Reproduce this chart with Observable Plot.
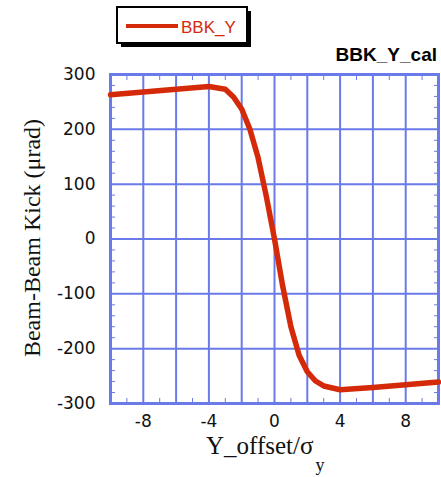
<!DOCTYPE html>
<html>
<head>
<meta charset="utf-8">
<script src="https://cdn.jsdelivr.net/npm/d3@7"></script>
<script src="https://cdn.jsdelivr.net/npm/@observablehq/plot@0.6"></script>
<style>
  body { margin: 0; background: #fff; }
  #chart { width: 441px; height: 477px; }
</style>
</head>
<body>
<div id="chart"></div>
<script>
// Vertical beam-beam kick versus normalised vertical offset
const offsets = [-10, -8, -6, -4, -3, -2.5, -2, -1.5, -1, -0.5, 0, 0.5, 1, 1.5, 2, 2.5, 3, 4, 6, 8, 10];
const kicks   = [263, 268, 273, 278, 273, 259, 237, 200, 148, 78, 0, -86, -160, -212, -242, -259, -268, -275, -271, -266, -261];
const xTickValues = [-8, -4, 0, 4, 8];
const yTickValues = [-300, -200, -100, 0, 100, 200, 300];
const xGridValues = [-10, -8, -6, -4, -2, 0, 2, 4, 6, 8, 10];
const xMinorValues = [-9, -7, -5, -3, -1, 1, 3, 5, 7, 9];
const yMinorValues = d3.range(-280, 300, 20).filter(v => v % 100 !== 0);
const seriesName = "BBK_Y";
const chartTitle = "BBK_Y_cal";
const xLabel = "Y_offset/σ";
const xLabelSub = "y";
const yLabel = "Beam-Beam Kick (μrad)";

const data = offsets.map((x, i) => ({x, y: kicks[i]}));

const blue = "#6a7ae8";
const red = "#d42a0a";
const fmt = d => String(d);
const blank = () => "";

const plot = Plot.plot({
  width: 441,
  height: 477,
  marginTop: 74,
  marginBottom: 74,
  marginLeft: 110,
  marginRight: 3,
  x: {domain: [-10, 10]},
  y: {domain: [-300, 300]},
  style: {fontFamily: "DejaVu Sans", fontSize: "17px", color: "#111", background: "#fff"},
  marks: [
    Plot.gridX(xGridValues, {stroke: blue, strokeOpacity: 1, strokeWidth: 2}),
    Plot.gridY(yTickValues, {stroke: blue, strokeOpacity: 1, strokeWidth: 2}),
    // minor ticks pointing inward on all four sides
    Plot.axisX({anchor: "bottom", ticks: xMinorValues, tickSize: -5, tickFormat: blank, label: null, stroke: blue}),
    Plot.axisX({anchor: "top", ticks: xMinorValues, tickSize: -5, tickFormat: blank, label: null, stroke: blue}),
    Plot.axisY({anchor: "left", ticks: yMinorValues, tickSize: -5, tickFormat: blank, label: null, stroke: blue}),
    Plot.axisY({anchor: "right", ticks: yMinorValues, tickSize: -5, tickFormat: blank, label: null, stroke: blue}),
    // labelled ticks
    Plot.axisX({anchor: "bottom", ticks: xTickValues, tickSize: 0, tickPadding: 11, tickFormat: fmt, label: null}),
    Plot.axisY({anchor: "left", ticks: yTickValues, tickSize: 0, tickPadding: 15, tickFormat: fmt, label: null}),
    Plot.frame({stroke: blue, strokeWidth: 3}),
    Plot.line(data, {x: "x", y: "y", stroke: red, strokeWidth: 5.5, strokeLinejoin: "round"})
  ]
});

const svg = d3.select(plot);

// axis titles
svg.append("text")
  .attr("transform", "translate(40,238) rotate(-90)")
  .attr("text-anchor", "middle")
  .style("font-family", "'Liberation Serif', serif")
  .style("font-size", "24px")
  .attr("fill", "#111")
  .text(yLabel);

const xt = svg.append("text")
  .attr("x", 206)
  .attr("y", 454)
  .attr("text-anchor", "start")
  .style("font-family", "'Liberation Serif', serif")
  .style("font-size", "25px")
  .attr("fill", "#111");
xt.append("tspan").text(xLabel);
xt.append("tspan").attr("dx", 2).attr("dy", 17).style("font-size", "18px").text(xLabelSub);

// title
svg.append("text")
  .attr("x", 437)
  .attr("y", 61)
  .attr("text-anchor", "end")
  .style("font-family", "'Liberation Sans', sans-serif")
  .style("font-size", "19px")
  .style("font-weight", "bold")
  .attr("fill", "#000")
  .text(chartTitle);

// legend box with drop shadow
const lg = svg.append("g");
lg.append("rect").attr("x", 121).attr("y", 11).attr("width", 130).attr("height", 36).attr("fill", "#000");
lg.append("rect").attr("x", 117).attr("y", 7).attr("width", 130).attr("height", 36)
  .attr("fill", "#fff").attr("stroke", "#000").attr("stroke-width", 2);
lg.append("line").attr("x1", 126).attr("x2", 178).attr("y1", 26).attr("y2", 26)
  .attr("stroke", red).attr("stroke-width", 4);
lg.append("text").attr("x", 181).attr("y", 33)
  .attr("text-anchor", "start")
  .style("font-family", "'Liberation Sans', sans-serif")
  .style("font-size", "17px")
  .attr("fill", red)
  .text(seriesName);

document.getElementById("chart").append(plot);
</script>
</body>
</html>
